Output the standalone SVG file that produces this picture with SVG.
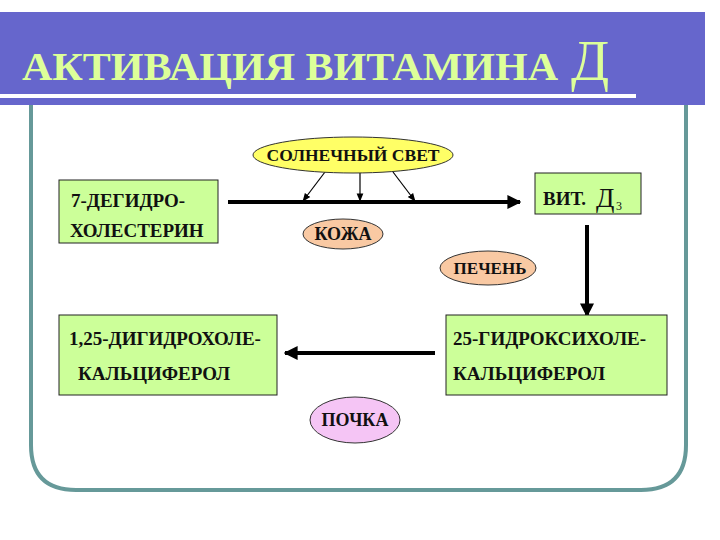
<svg xmlns="http://www.w3.org/2000/svg" width="720" height="540" viewBox="0 0 720 540">
<defs>
<style>
.box{fill:#ccff99;stroke:#222;stroke-width:1}
.peach{fill:#f9c9a3;stroke:#333;stroke-width:1}
.conn{stroke:#000;fill:none}
</style>
<marker id="ah" viewBox="0 0 10 10" refX="9" refY="5" markerWidth="3.5" markerHeight="3.5" orient="auto"><path d="M0,0 L10,5 L0,10 z" fill="#000"/></marker>
<marker id="as" viewBox="0 0 10 10" refX="9" refY="5" markerWidth="7" markerHeight="7" orient="auto"><path d="M0,1 L10,5 L0,9 z" fill="#000"/></marker>
</defs>
<rect width="720" height="540" fill="#fff"/>
<g id="frame">
<path d="M31,100 V445 Q31,490 76,490 H641 Q686,490 686,445 V100" fill="#fff" stroke="#669999" stroke-width="4"/>
</g>
<g id="banner">
<rect x="0" y="12" width="705" height="93" fill="#6666cc"/>
<rect x="0" y="94" width="636" height="4" fill="#fff"/>
<text x="22" y="80" font-family="Liberation Serif, serif" font-weight="bold" font-size="41" fill="#ddff99" textLength="536" lengthAdjust="spacingAndGlyphs">АКТИВАЦИЯ ВИТАМИНА</text>
<text x="571" y="80" font-family="Liberation Serif, serif" font-size="56" fill="#ddff99">Д</text>
</g>
<g id="connectors">
<line class="conn" x1="228" y1="202" x2="520" y2="202" stroke-width="4" marker-end="url(#ah)"/>
<line class="conn" x1="325" y1="172" x2="303" y2="201" stroke-width="1.2" marker-end="url(#as)"/>
<line class="conn" x1="360" y1="172" x2="360" y2="201" stroke-width="1.2" marker-end="url(#as)"/>
<line class="conn" x1="393" y1="172" x2="415" y2="201" stroke-width="1.2" marker-end="url(#as)"/>
<line class="conn" x1="587" y1="225" x2="587" y2="316" stroke-width="4" marker-end="url(#ah)"/>
<line class="conn" x1="435" y1="353" x2="285" y2="353" stroke-width="4" marker-end="url(#ah)"/>
</g>
<g id="sun">
<ellipse cx="353" cy="155" rx="100" ry="18" fill="#ffff66" stroke="#333" stroke-width="1"/>
<text x="353" y="161" text-anchor="middle" font-family="Liberation Serif, serif" font-weight="bold" fill="#111" font-size="17.5">СОЛНЕЧНЫЙ СВЕТ</text>
</g>
<g id="dehydro">
<rect class="box" x="59" y="180" width="159" height="63"/>
<text x="71" y="207" font-family="Liberation Serif, serif" font-weight="bold" fill="#111" font-size="19">7-ДЕГИДРО-</text>
<text x="70" y="237" font-family="Liberation Serif, serif" font-weight="bold" fill="#111" font-size="19">ХОЛЕСТЕРИН</text>
</g>
<g id="vitd3">
<rect class="box" x="535" y="173" width="106" height="41"/>
<text x="543" y="205" font-family="Liberation Serif, serif" font-weight="bold" fill="#111" font-size="19">ВИТ.</text>
<text x="596" y="207" font-family="Liberation Serif, serif" fill="#111" font-size="27">Д</text>
<text x="616" y="210" font-family="Liberation Serif, serif" fill="#111" font-size="12">3</text>
</g>
<g id="skin">
<ellipse class="peach" cx="343" cy="234" rx="40" ry="15"/>
<text x="343" y="240" text-anchor="middle" font-family="Liberation Serif, serif" font-weight="bold" fill="#111" font-size="18">КОЖА</text>
</g>
<g id="liver">
<ellipse class="peach" cx="488" cy="268" rx="48" ry="17"/>
<text x="490" y="274" text-anchor="middle" font-family="Liberation Serif, serif" font-weight="bold" fill="#111" font-size="17">ПЕЧЕНЬ</text>
</g>
<g id="hydroxy">
<rect class="box" x="446" y="315" width="221" height="80"/>
<text x="453" y="345" font-family="Liberation Serif, serif" font-weight="bold" fill="#111" font-size="19">25-ГИДРОКСИХОЛЕ-</text>
<text x="453" y="380" font-family="Liberation Serif, serif" font-weight="bold" fill="#111" font-size="19">КАЛЬЦИФЕРОЛ</text>
</g>
<g id="dihydroxy">
<rect class="box" x="59" y="315" width="218" height="80"/>
<text x="69" y="345" font-family="Liberation Serif, serif" font-weight="bold" fill="#111" font-size="19">1,25-ДИГИДРОХОЛЕ-</text>
<text x="78" y="380" font-family="Liberation Serif, serif" font-weight="bold" fill="#111" font-size="19">КАЛЬЦИФЕРОЛ</text>
</g>
<g id="kidney">
<ellipse cx="355" cy="420" rx="45" ry="23" fill="#f5c5f5" stroke="#333" stroke-width="1"/>
<text x="355" y="426" text-anchor="middle" font-family="Liberation Serif, serif" font-weight="bold" fill="#111" font-size="18">ПОЧКА</text>
</g>
</svg>
